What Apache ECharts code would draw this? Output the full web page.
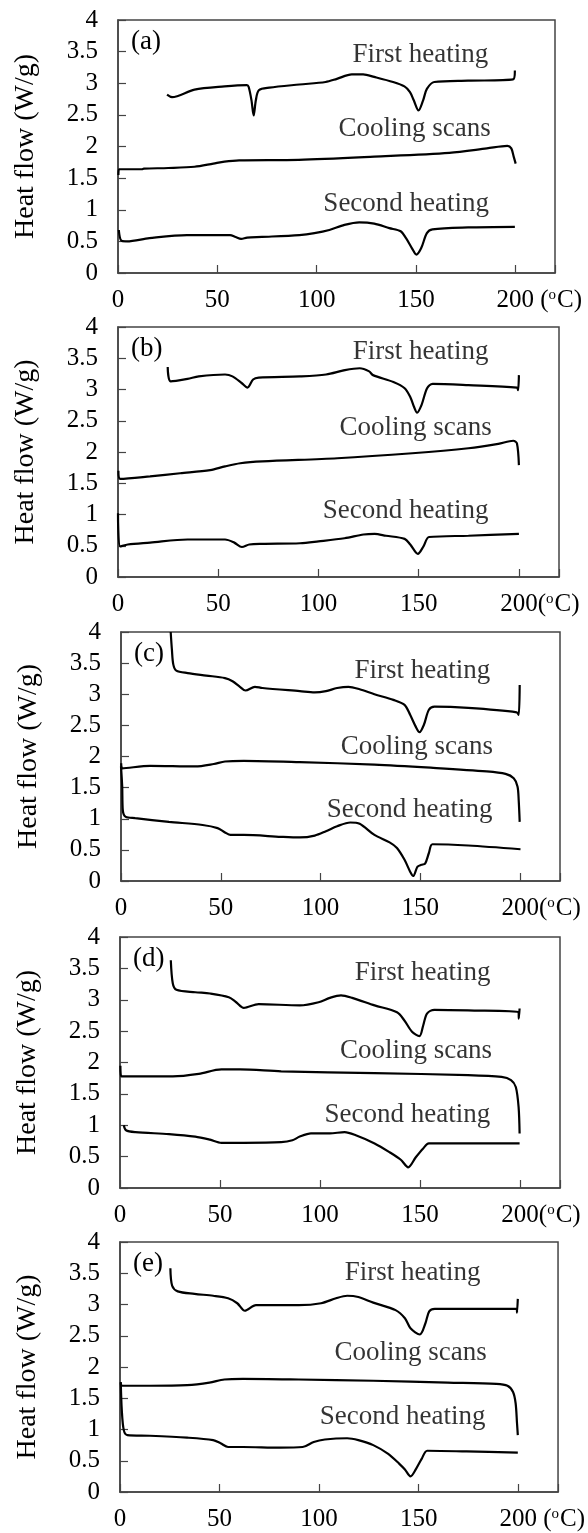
<!DOCTYPE html>
<html>
<head>
<meta charset="utf-8">
<script src="https://cdn.jsdelivr.net/npm/echarts@6/dist/echarts.min.js"></script>
<style>
  html, body { margin: 0; padding: 0; background: #fff; }
  #main { width: 588px; height: 1533px; }
</style>
</head>
<body>
<div id="main"></div>
<script>
// ---- data: [temperature (oC), heat flow (W/g)] ----
var curveNames = ['First heating', 'Cooling scans', 'Second heating'];
var panelTags = ['(a)', '(b)', '(c)', '(d)', '(e)'];

var aFirst = [[24.7,2.82],[27.2,2.78],[38.5,2.9],[53.6,2.95],[64.9,2.97],[65.8,2.94],[67.2,2.73],[68.3,2.49],[69.4,2.73],[70.9,2.89],[76.2,2.93],[91.3,2.98],[104.5,3.02],[110.2,3.07],[117.7,3.14],[123.4,3.14],[129,3.1],[138.5,3.02],[144.2,2.95],[147,2.86],[148.9,2.73],[151.3,2.57],[153.6,2.73],[155.5,2.91],[159.2,3.02],[176.2,3.04],[198.9,3.06],[199.8,3.2]];
var aCool = [[0.2,1.55],[0.5,1.64],[12,1.64],[13,1.65],[25.3,1.66],[38.5,1.68],[48,1.73],[53.6,1.76],[61,1.78],[91,1.79],[129,1.84],[166.8,1.9],[185.7,1.97],[196,2.01],[198,1.97],[199.2,1.84],[200.2,1.73]];
var aSecond = [[0.4,0.68],[1.7,0.51],[4.5,0.5],[15.8,0.55],[34.7,0.6],[49.8,0.6],[56.4,0.6],[59.2,0.57],[62,0.54],[65,0.56],[72.5,0.57],[91.3,0.6],[98.9,0.63],[106.4,0.68],[114,0.76],[121.5,0.8],[129,0.78],[136.6,0.71],[142.3,0.66],[145,0.55],[148,0.39],[150.2,0.29],[152.6,0.39],[155.5,0.63],[158.3,0.69],[176.2,0.72],[199.8,0.73]];

var bFirst = [[24.8,3.36],[26.3,3.13],[34.7,3.17],[40.3,3.21],[53.4,3.24],[57.1,3.21],[61.8,3.1],[64.6,3.03],[67.4,3.16],[70.2,3.19],[90.8,3.21],[103.8,3.24],[113.2,3.31],[120.6,3.34],[125.3,3.29],[127.2,3.23],[137.4,3.12],[143,3.02],[145.8,2.88],[147.7,2.72],[149.2,2.63],[151.4,2.75],[154.2,3.02],[157,3.09],[174.8,3.07],[199,3.03],[199.6,2.99],[200,3.23]];
var bCool = [[0.2,1.7],[1.1,1.57],[16,1.61],[31,1.66],[46,1.71],[53.4,1.77],[61,1.82],[72,1.85],[109.4,1.9],[146.8,1.98],[174.8,2.06],[189.7,2.13],[197.2,2.18],[199,2.14],[200,1.79]];
var bSecond = [[0,1.02],[1.1,0.49],[4.9,0.52],[16,0.55],[34.7,0.6],[53.4,0.6],[58,0.55],[61.8,0.48],[65.5,0.52],[72,0.53],[90.8,0.54],[100,0.57],[113,0.62],[122.5,0.68],[128,0.69],[133.7,0.66],[143,0.61],[145.8,0.52],[149.6,0.37],[152.4,0.49],[155.2,0.64],[174.8,0.66],[200,0.69]];

var cFirst = [[24.9,4.0],[25.5,3.72],[26.2,3.48],[27.7,3.38],[33.4,3.34],[42.7,3.3],[52.1,3.26],[55.9,3.21],[59.6,3.12],[62.4,3.06],[67.1,3.12],[70.9,3.1],[89.6,3.05],[97.1,3.03],[102.7,3.05],[108.3,3.1],[114,3.12],[119.6,3.08],[127,3.0],[136.5,2.91],[142.1,2.83],[144.9,2.67],[147.7,2.48],[149.6,2.39],[151.8,2.51],[154.3,2.75],[157.1,2.8],[174,2.78],[198.3,2.71],[199.3,2.67],[199.8,3.15]];
var cCool = [[0.1,1.89],[0.6,1.81],[14.6,1.85],[37.1,1.84],[46.5,1.88],[52.1,1.92],[61.5,1.93],[89.6,1.91],[127,1.87],[155.2,1.82],[183.3,1.76],[192.7,1.72],[196.8,1.65],[198.7,1.52],[199.3,1.3],[199.8,0.95]];
var cSecond = [[0,1.84],[0.6,1.52],[0.9,1.14],[2.4,1.03],[7.1,1.01],[24,0.95],[40.9,0.9],[48.4,0.85],[52.1,0.78],[54.9,0.74],[61.5,0.74],[80.2,0.71],[89.6,0.7],[97.1,0.73],[102.7,0.8],[108.3,0.88],[114.9,0.94],[119.6,0.92],[127,0.74],[134.6,0.62],[138.3,0.53],[142.1,0.34],[144.9,0.15],[146.4,0.08],[148.6,0.23],[150.5,0.26],[152.4,0.28],[154.3,0.45],[156.1,0.59],[174,0.57],[200.2,0.51]];

var dFirst = [[25.4,3.63],[26.4,3.26],[28.2,3.16],[37.6,3.12],[45,3.1],[54.4,3.04],[58.1,2.96],[61.9,2.87],[69.3,2.93],[89.9,2.91],[99.3,2.96],[104.9,3.03],[110.5,3.07],[116.1,3.03],[127.3,2.91],[138.5,2.8],[142.2,2.67],[146,2.49],[149.7,2.42],[151.6,2.59],[153.5,2.78],[157.2,2.84],[174,2.83],[199.3,2.8],[199.4,2.7],[199.8,2.86]];
var dCool = [[0.2,1.95],[0.6,1.78],[15.1,1.78],[26.4,1.78],[39.4,1.82],[50.7,1.89],[60,1.89],[80.6,1.86],[127.3,1.83],[174,1.8],[190.8,1.77],[195.5,1.72],[197.9,1.61],[199.3,1.29],[199.8,0.87]];
var dSecond = [[1.9,1.0],[3,0.92],[7.7,0.89],[24.5,0.86],[37.6,0.82],[45,0.77],[50.7,0.72],[61.9,0.72],[80.6,0.73],[86.2,0.76],[89.9,0.82],[95.5,0.87],[104.9,0.87],[112.3,0.89],[117.9,0.84],[127.3,0.71],[134.8,0.57],[140.4,0.45],[144.1,0.33],[147.9,0.49],[151.6,0.63],[154.4,0.71],[174,0.71],[199.8,0.71]];

var eFirst = [[25.3,3.58],[26.2,3.3],[29,3.21],[37.4,3.17],[46.8,3.14],[54.3,3.1],[58.9,3.02],[62.7,2.9],[68.3,2.99],[89.8,2.99],[101,3.02],[108.5,3.1],[114.1,3.14],[119.7,3.12],[127.2,3.03],[138.4,2.91],[143.1,2.78],[145.9,2.62],[150.6,2.52],[153.4,2.7],[155.3,2.89],[158.1,2.93],[174,2.93],[199.3,2.93],[199.4,2.87],[199.8,3.09]];
var eCool = [[0.4,1.76],[0.9,1.7],[15,1.7],[33.7,1.71],[44.9,1.75],[52.4,1.8],[61.7,1.81],[89.8,1.8],[127.2,1.78],[164.6,1.75],[189,1.73],[194.6,1.7],[197.4,1.6],[198.7,1.42],[199.4,1.1],[199.8,0.91]];
var eSecond = [[0.4,1.74],[0.9,1.31],[1.9,0.99],[3.7,0.91],[15,0.9],[33.7,0.87],[46.8,0.83],[50.5,0.78],[54.3,0.72],[61.7,0.72],[80.4,0.71],[91.7,0.72],[97.3,0.8],[102.9,0.84],[114.1,0.86],[119.7,0.83],[127.2,0.75],[134.7,0.61],[140.3,0.45],[143.1,0.36],[145.9,0.25],[148.7,0.37],[151.5,0.53],[154.3,0.66],[174,0.65],[199.8,0.63]];

// label anchors (temperature, heat flow) for the three curve names in each panel
var aNotes = [[152.2,3.45],[149.3,2.28],[145.1,1.09]];
var bNotes = [[151,3.6],[148.5,2.38],[143.5,1.06]];
var cNotes = [[151,3.37],[148.3,2.15],[144.6,1.14]];
var dNotes = [[151.3,3.42],[148,2.18],[143.7,1.17]];
var eNotes = [[147,3.51],[146,2.22],[141.9,1.2]];

var panelCurves = [[aFirst, aCool, aSecond], [bFirst, bCool, bSecond], [cFirst, cCool, cSecond], [dFirst, dCool, dSecond], [eFirst, eCool, eSecond]];
var panelNotes = [aNotes, bNotes, cNotes, dNotes, eNotes];
var unitSpace = [' ', '', '', '', ' '];

var xMin = 0, xMax = 220, xStep = 50;
var yMin = 0, yMax = 4, yStep = 0.5;

// ---- layout ----
var grids = [
  {left: 118, top: 20, width: 437, height: 253},
  {left: 118, top: 327, width: 441, height: 250},
  {left: 121, top: 632, width: 439, height: 249},
  {left: 120, top: 937, width: 440, height: 251},
  {left: 120, top: 1242, width: 440, height: 250}
];

var FONT = '"Liberation Serif", "Times New Roman", serif';
var frame = '#444';

var option = {
  backgroundColor: '#fff',
  animation: false,
  textStyle: {fontFamily: FONT, color: '#000'},
  grid: [], xAxis: [], yAxis: [], series: [], graphic: []
};

grids.forEach(function (g, i) {
  option.grid.push({
    left: g.left, top: g.top, width: g.width, height: g.height,
    show: true, borderColor: frame, borderWidth: 1.5, containLabel: false
  });
  var sp = unitSpace[i];
  option.xAxis.push({
    type: 'value', gridIndex: i, min: xMin, max: xMax, interval: xStep,
    axisLine: {show: true, onZero: false, lineStyle: {color: frame, width: 1.5}},
    axisTick: {show: true, inside: true, length: 8, lineStyle: {color: frame, width: 1.2}},
    splitLine: {show: false},
    axisLabel: {
      margin: 15, fontSize: 25, color: '#000', fontFamily: FONT,
      formatter: function (v) {
        if (v % xStep !== 0) return '';
        if (v === 200) return '{p' + i + '|}200' + sp + '({s|o}C)';
        return String(v);
      },
      rich: (function () {
        var r = {s: {fontSize: 15, fontFamily: FONT, color: '#000', verticalAlign: 'top', padding: [0, 1, 0, 0]}};
        r['p' + i] = {width: sp ? 48 : 42};
        return r;
      })()
    }
  });
  option.yAxis.push({
    type: 'value', gridIndex: i, min: yMin, max: yMax, interval: yStep,
    name: 'Heat flow (W/g)', nameLocation: 'middle', nameGap: 78,
    nameTextStyle: {fontSize: 28, color: '#000', fontFamily: FONT},
    axisLine: {show: true, onZero: false, lineStyle: {color: frame, width: 1.5}},
    axisTick: {show: true, inside: true, length: 8, lineStyle: {color: frame, width: 1.2}},
    splitLine: {show: false},
    axisLabel: {margin: 20, fontSize: 25, color: '#000', fontFamily: FONT}
  });
  panelCurves[i].forEach(function (d, k) {
    option.series.push({
      name: curveNames[k], type: 'line', xAxisIndex: i, yAxisIndex: i,
      data: d, showSymbol: false, symbol: 'none', smooth: 0.3, clip: true,
      lineStyle: {color: '#000', width: 2.2}, silent: true
    });
  });
  option.series.push({
    type: 'scatter', xAxisIndex: i, yAxisIndex: i, silent: true,
    symbolSize: 0,
    data: panelNotes[i].map(function (p, k) { return [p[0], p[1], curveNames[k]]; }),
    label: {
      show: true, position: 'inside', fontSize: 27, color: '#000', fontFamily: FONT,
      formatter: function (p) { return p.data[2]; }
    }
  });
  option.graphic.push({
    type: 'text', left: g.left + 13, top: g.top + 8, silent: true,
    style: {text: panelTags[i], font: '27px ' + FONT, fill: '#000'}
  });
});

var chart = echarts.init(document.getElementById('main'));
chart.setOption(option);
</script>
</body>
</html>
